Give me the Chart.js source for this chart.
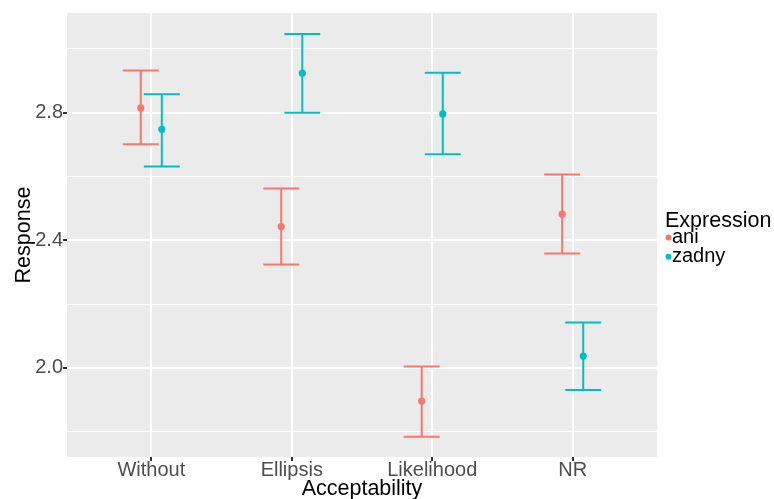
<!DOCTYPE html>
<html>
<head>
<meta charset="utf-8">
<script src="https://cdn.jsdelivr.net/npm/chart.js@4"></script>
<style>
html,body{margin:0;padding:0;background:#fff;}
#wrap{width:774px;height:499px;}
</style>
</head>
<body>
<div id="wrap"><canvas id="c" width="774" height="499"></canvas></div>
<script>
const categories = ['Without', 'Ellipsis', 'Likelihood', 'NR'];
const seriesNames = ['ani', 'zadny'];
const legendTitle = 'Expression';
const xTitle = 'Acceptability';
const yTitle = 'Response';

const aniMean  = [2.815, 2.443, 1.896, 2.482];
const aniLower = [2.701, 2.324, 1.784, 2.359];
const aniUpper = [2.932, 2.562, 2.004, 2.606];

const zadnyMean  = [2.748, 2.924, 2.796, 2.037];
const zadnyLower = [2.631, 2.800, 2.670, 1.931];
const zadnyUpper = [2.858, 3.047, 2.925, 2.142];

const yTickValues = [2.0, 2.4, 2.8];
const yTickLabels = ['2.0', '2.4', '2.8'];
const yMinorValues = [1.8, 2.2, 2.6, 3.0];

const colors = ['#F8766D', '#00BFC4'];
const DODGE = 0.075;
const CAP_HALF = 0.128;
const FONT = '"Liberation Sans", Arial, sans-serif';

const series = [
  {mean: aniMean, lower: aniLower, upper: aniUpper, off: -DODGE},
  {mean: zadnyMean, lower: zadnyLower, upper: zadnyUpper, off: DODGE}
];

const isMajor = v => yTickValues.some(t => Math.abs(t - v) < 1e-6);

const panelBg = {
  id: 'panelBg',
  beforeDraw(chart) {
    const {ctx, chartArea: a} = chart;
    ctx.save();
    ctx.fillStyle = '#EBEBEB';
    ctx.fillRect(a.left, a.top, a.right - a.left, a.bottom - a.top);
    ctx.restore();
  }
};

const errorBars = {
  id: 'errorBars',
  beforeDatasetsDraw(chart) {
    const {ctx, scales: {x, y}} = chart;
    ctx.save();
    ctx.lineWidth = 2;
    series.forEach((s, si) => {
      ctx.strokeStyle = colors[si];
      categories.forEach((c, i) => {
        const cx = x.getPixelForValue(i + 1 + s.off);
        const xl = x.getPixelForValue(i + 1 + s.off - CAP_HALF);
        const xr = x.getPixelForValue(i + 1 + s.off + CAP_HALF);
        const yl = y.getPixelForValue(s.lower[i]);
        const yu = y.getPixelForValue(s.upper[i]);
        ctx.beginPath();
        ctx.moveTo(cx, yl); ctx.lineTo(cx, yu);
        ctx.moveTo(xl, yl); ctx.lineTo(xr, yl);
        ctx.moveTo(xl, yu); ctx.lineTo(xr, yu);
        ctx.stroke();
      });
    });
    ctx.restore();
  }
};

const customLegend = {
  id: 'customLegend',
  afterDraw(chart) {
    const ctx = chart.ctx;
    ctx.save();
    ctx.fillStyle = '#000';
    ctx.textAlign = 'left';
    ctx.textBaseline = 'alphabetic';
    ctx.font = '21.5px ' + FONT;
    ctx.fillText(legendTitle, 665, 226.7);
    ctx.font = '20px ' + FONT;
    seriesNames.forEach((n, i) => {
      const cy = 237.5 + i * 19.2;
      ctx.fillStyle = colors[i];
      ctx.beginPath();
      ctx.arc(668.5, cy, 3, 0, Math.PI * 2);
      ctx.fill();
      ctx.fillStyle = '#000';
      ctx.fillText(n, 672, cy + 5.5);
    });
    ctx.restore();
  }
};

new Chart(document.getElementById('c'), {
  type: 'scatter',
  data: {
    datasets: series.map((s, si) => ({
      label: seriesNames[si],
      data: categories.map((c, i) => ({x: i + 1 + s.off, y: s.mean[i]})),
      backgroundColor: colors[si],
      borderColor: colors[si],
      borderWidth: 0,
      pointRadius: 3.6,
      pointHoverRadius: 3.6
    }))
  },
  options: {
    responsive: false,
    animation: false,
    devicePixelRatio: 1,
    layout: {padding: {left: 0, right: 117, top: 13, bottom: 0}},
    plugins: {legend: {display: false}, tooltip: {enabled: false}},
    scales: {
      x: {
        type: 'linear',
        min: 0.4, max: 4.6,
        afterFit(scale) { scale.height = 42; },
        afterBuildTicks(scale) { scale.ticks = categories.map((c, i) => ({value: i + 1})); },
        border: {display: false},
        grid: {color: '#FFFFFF', lineWidth: 2, tickColor: '#333333', tickLength: 4, drawTicks: true},
        ticks: {
          autoSkip: false, maxRotation: 0, padding: -3,
          color: '#4D4D4D',
          font: {family: FONT, size: 20},
          callback: v => categories[Math.round(v) - 1] || ''
        },
        title: {
          display: true, text: xTitle, color: '#000',
          font: {family: FONT, size: 21.5, lineHeight: 1},
          padding: {top: 0, bottom: -1}
        }
      },
      y: {
        type: 'linear',
        min: 1.7207, max: 3.1125,
        afterFit(scale) { scale.width = 67; },
        afterBuildTicks(scale) {
          scale.ticks = yMinorValues.concat(yTickValues).sort((a, b) => a - b).map(v => ({value: v}));
        },
        border: {display: false},
        grid: {
          color: '#FFFFFF',
          lineWidth: c => (c.tick && isMajor(c.tick.value)) ? 2 : 1.1,
          tickColor: c => (c.tick && isMajor(c.tick.value)) ? '#333333' : 'rgba(0,0,0,0)',
          tickLength: 4, drawTicks: true
        },
        ticks: {
          autoSkip: false, padding: 0,
          color: '#4D4D4D',
          font: {family: FONT, size: 20},
          callback: v => {
            const k = yTickValues.findIndex(t => Math.abs(t - v) < 1e-6);
            return k >= 0 ? yTickLabels[k] : '';
          }
        },
        title: {
          display: true, text: yTitle, color: '#000',
          font: {family: FONT, size: 21.5, lineHeight: 1},
          padding: {top: 13, bottom: 0}
        }
      }
    }
  },
  plugins: [panelBg, errorBars, customLegend]
});
</script>
</body>
</html>
